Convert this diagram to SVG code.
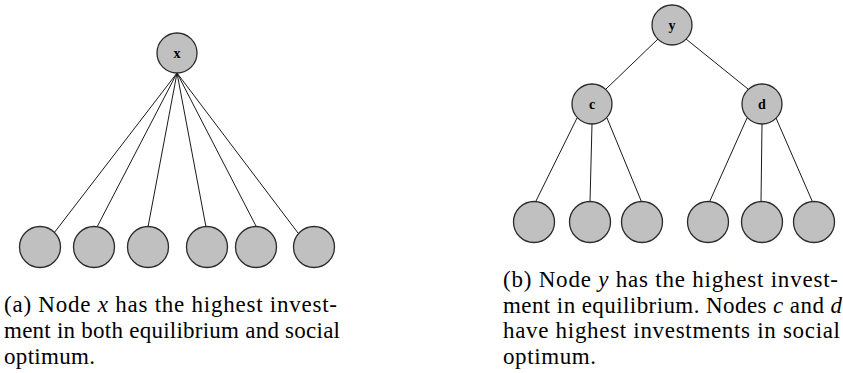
<svg xmlns="http://www.w3.org/2000/svg" width="843" height="373" viewBox="0 0 843 373">
<style>
.edge{stroke:#1a1a1a;stroke-width:1;fill:none}
.node circle{fill:#c0c0c0;stroke:#2a2a2a;stroke-width:1.3}
.lbl{font-family:"Liberation Serif",serif;font-weight:bold;font-size:14px;text-anchor:middle;fill:#000}
.cap{font-family:"Liberation Serif",serif;font-size:23px;fill:#000}
.m{font-style:italic}
</style>
<rect width="843" height="373" fill="#fff"/>
<g id="connectors">
<line class="edge" x1="177" y1="73" x2="54" y2="233"/>
<line class="edge" x1="177" y1="73" x2="97" y2="227"/>
<line class="edge" x1="177" y1="73" x2="148" y2="227"/>
<line class="edge" x1="177" y1="73" x2="206" y2="227"/>
<line class="edge" x1="177" y1="73" x2="257" y2="228"/>
<line class="edge" x1="177" y1="73" x2="298" y2="233"/>
<line class="edge" x1="658" y1="39" x2="606" y2="89"/>
<line class="edge" x1="686" y1="39" x2="748" y2="89"/>
<line class="edge" x1="577" y1="118" x2="535" y2="203"/>
<line class="edge" x1="592" y1="124" x2="590" y2="202"/>
<line class="edge" x1="607" y1="118" x2="642" y2="203"/>
<line class="edge" x1="747" y1="118" x2="709" y2="203"/>
<line class="edge" x1="762" y1="124" x2="761" y2="202"/>
<line class="edge" x1="776" y1="118" x2="813" y2="203"/>
</g>
<g id="node-x" class="node"><circle cx="177" cy="53" r="20"/><text class="lbl" x="177" y="58">x</text></g>
<g id="node-a1" class="node"><circle cx="40" cy="247" r="20.5"/></g>
<g id="node-a2" class="node"><circle cx="94" cy="247" r="20.5"/></g>
<g id="node-a3" class="node"><circle cx="148" cy="247" r="20.5"/></g>
<g id="node-a4" class="node"><circle cx="207" cy="247" r="20.5"/></g>
<g id="node-a5" class="node"><circle cx="256" cy="247" r="20.5"/></g>
<g id="node-a6" class="node"><circle cx="314" cy="247" r="20.5"/></g>
<g id="node-y" class="node"><circle cx="672" cy="25" r="20"/><text class="lbl" x="672" y="30">y</text></g>
<g id="node-c" class="node"><circle cx="592" cy="104" r="20"/><text class="lbl" x="592" y="109">c</text></g>
<g id="node-d" class="node"><circle cx="762" cy="104" r="20"/><text class="lbl" x="762" y="109">d</text></g>
<g id="node-b1" class="node"><circle cx="534" cy="222" r="20.5"/></g>
<g id="node-b2" class="node"><circle cx="590" cy="222" r="20.5"/></g>
<g id="node-b3" class="node"><circle cx="642" cy="222" r="20.5"/></g>
<g id="node-b4" class="node"><circle cx="708" cy="222" r="20.5"/></g>
<g id="node-b5" class="node"><circle cx="762" cy="222" r="20.5"/></g>
<g id="node-b6" class="node"><circle cx="814" cy="222" r="20.5"/></g>
<g id="caption-a" class="cap">
<text x="4" y="312" textLength="333" lengthAdjust="spacing">(a) Node <tspan class="m">x</tspan> has the highest invest-</text>
<text x="4" y="338" textLength="336" lengthAdjust="spacing">ment in both equilibrium and social</text>
<text x="4" y="364" textLength="91" lengthAdjust="spacing">optimum.</text>
</g>
<g id="caption-b" class="cap">
<text x="503" y="287" textLength="335" lengthAdjust="spacing">(b) Node <tspan class="m">y</tspan> has the highest invest-</text>
<text x="503" y="312.5" textLength="339" lengthAdjust="spacing">ment in equilibrium. Nodes <tspan class="m">c</tspan> and <tspan class="m">d</tspan></text>
<text x="503" y="338" textLength="337" lengthAdjust="spacing">have highest investments in social</text>
<text x="503" y="363.5" textLength="93" lengthAdjust="spacing">optimum.</text>
</g>
</svg>
